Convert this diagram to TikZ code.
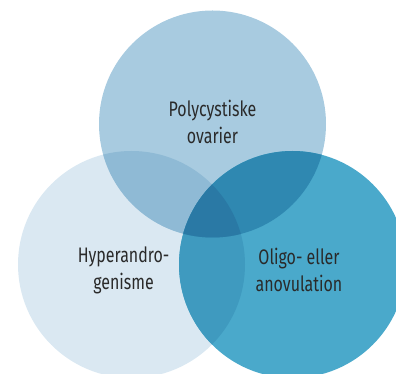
\documentclass[tikz,border=0pt]{standalone}
\usepackage{fontspec}
\setmainfont[FakeStretch=0.76]{Fira Sans}
\definecolor{ctop}{HTML}{A8CBE0}
\definecolor{cleft}{HTML}{DAE8F2}
\definecolor{cright}{HTML}{4AA9CB}
\definecolor{ctl}{HTML}{8FBAD5}
\definecolor{ctr}{HTML}{2F88B1}
\definecolor{clr}{HTML}{3F9ABF}
\definecolor{call}{HTML}{2A79A5}
\definecolor{ctext}{HTML}{2A2A2A}
\begin{document}
\begin{tikzpicture}[x=1pt,y=1pt,
  lbl/.style={text=ctext,font=\fontsize{21}{27}\selectfont,align=center,inner sep=0pt}]
\useasboundingbox (0,0) rectangle (396,374);
\clip (0,0) rectangle (396,374);
\def\R{113.5}
\coordinate (T) at (212.5,250);
\coordinate (L) at (131.5,109.5);
\coordinate (Rc) at (292.5,109.5);
\fill[cleft] (L) circle (\R);
\fill[ctop] (T) circle (\R);
\fill[cright] (Rc) circle (\R);
\begin{scope}
  \clip (L) circle (\R);
  \fill[ctl] (T) circle (\R);
  \fill[clr] (Rc) circle (\R);
\end{scope}
\begin{scope}
  \clip (T) circle (\R);
  \fill[ctr] (Rc) circle (\R);
  \clip (L) circle (\R);
  \fill[call] (Rc) circle (\R);
\end{scope}
\node[lbl] (ntop) at (212.5,252.5) {Polycystiske\\ovarier};
\node[lbl] (nleft) at (123.5,104) {Hyperandro-\\genisme};
\node[lbl] (nright) at (299,104) {Oligo- eller\\anovulation};
\end{tikzpicture}
\end{document}
